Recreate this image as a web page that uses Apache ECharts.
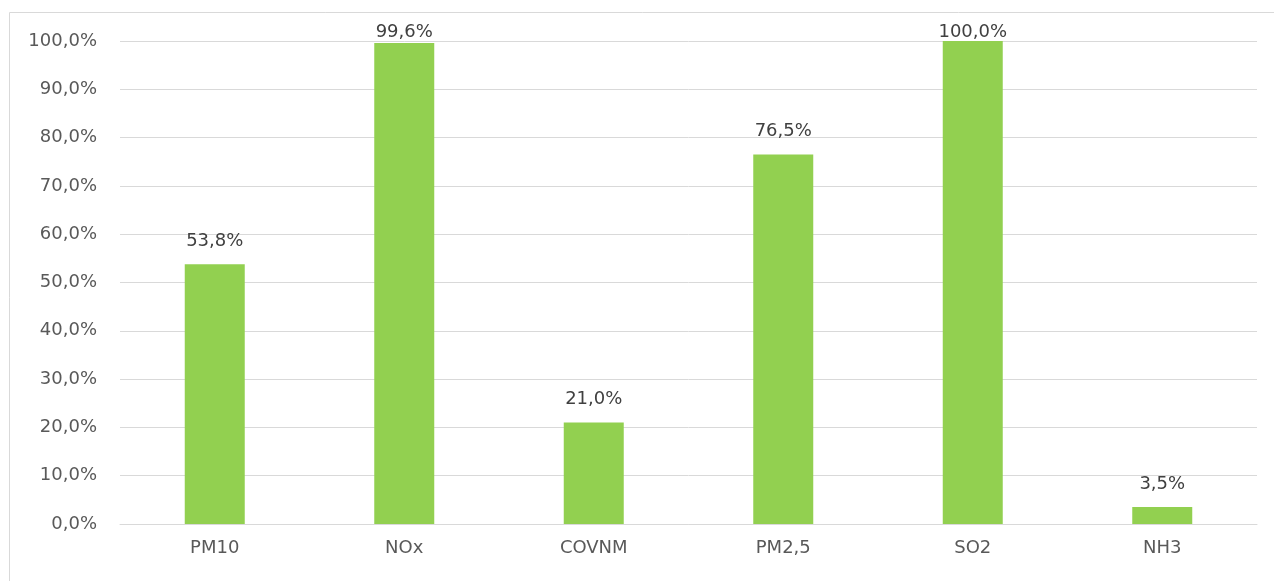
<!DOCTYPE html>
<html>
<head>
    <meta charset="utf-8" />
    <title>ECharts</title>
    <script src="https://cdn.jsdelivr.net/npm/echarts@6/dist/echarts.min.js"></script>
    <style>
        html, body { margin: 0; padding: 0; background: #fff; }
        #main { width: 1274px; height: 581px; }
    </style>
</head>
<body>
<div id="main"></div>
<script type="text/javascript">
    // 数据
    var categories = ['PM10', 'NOx', 'COVNM', 'PM2,5', 'SO2', 'NH3'];
    var values = [53.8, 99.6, 21.0, 76.5, 100.0, 3.5];

    function pct(v) {
        return v.toFixed(1).replace('.', ',') + '%';
    }

    var option = {
        animation: false,
        textStyle: { fontFamily: 'DejaVu Sans' },
        grid: { left: 120, right: 17, top: 41, bottom: 57 },
        graphic: [{
            type: 'rect',
            shape: { x: 9.5, y: 12.5, width: 1280, height: 600 },
            style: { fill: 'none', stroke: '#d9d9d9', lineWidth: 1 },
            silent: true
        }],
        xAxis: {
            type: 'category',
            data: categories,
            axisTick: { show: false },
            axisLine: { lineStyle: { color: '#d9d9d9', width: 1 } },
            axisLabel: { color: '#595959', fontSize: 18, margin: 15 }
        },
        yAxis: {
            type: 'value',
            min: 0,
            max: 100,
            interval: 10,
            axisLine: { show: false },
            axisTick: { show: false },
            splitLine: { lineStyle: { color: '#d9d9d9', width: 1 } },
            axisLabel: {
                color: '#595959', fontSize: 18, margin: 23,
                formatter: function (v) { return pct(v); }
            }
        },
        series: [{
            type: 'bar',
            data: values,
            barWidth: 60,
            itemStyle: { color: '#92d050' },
            label: {
                show: true,
                position: 'top',
                distance: 14,
                color: '#404040',
                fontSize: 18,
                formatter: function (p) { return pct(p.value); }
            },
            // keep labels inside the chart area like Excel does
            labelLayout: function (p) {
                var r = p.labelRect;
                return {
                    x: r.x + r.width / 2,
                    y: Math.max(r.y, 23),
                    align: 'center',
                    verticalAlign: 'top'
                };
            }
        }]
    };

    var myChart = echarts.init(document.getElementById('main'));
    myChart.setOption(option);
</script>
</body>
</html>
